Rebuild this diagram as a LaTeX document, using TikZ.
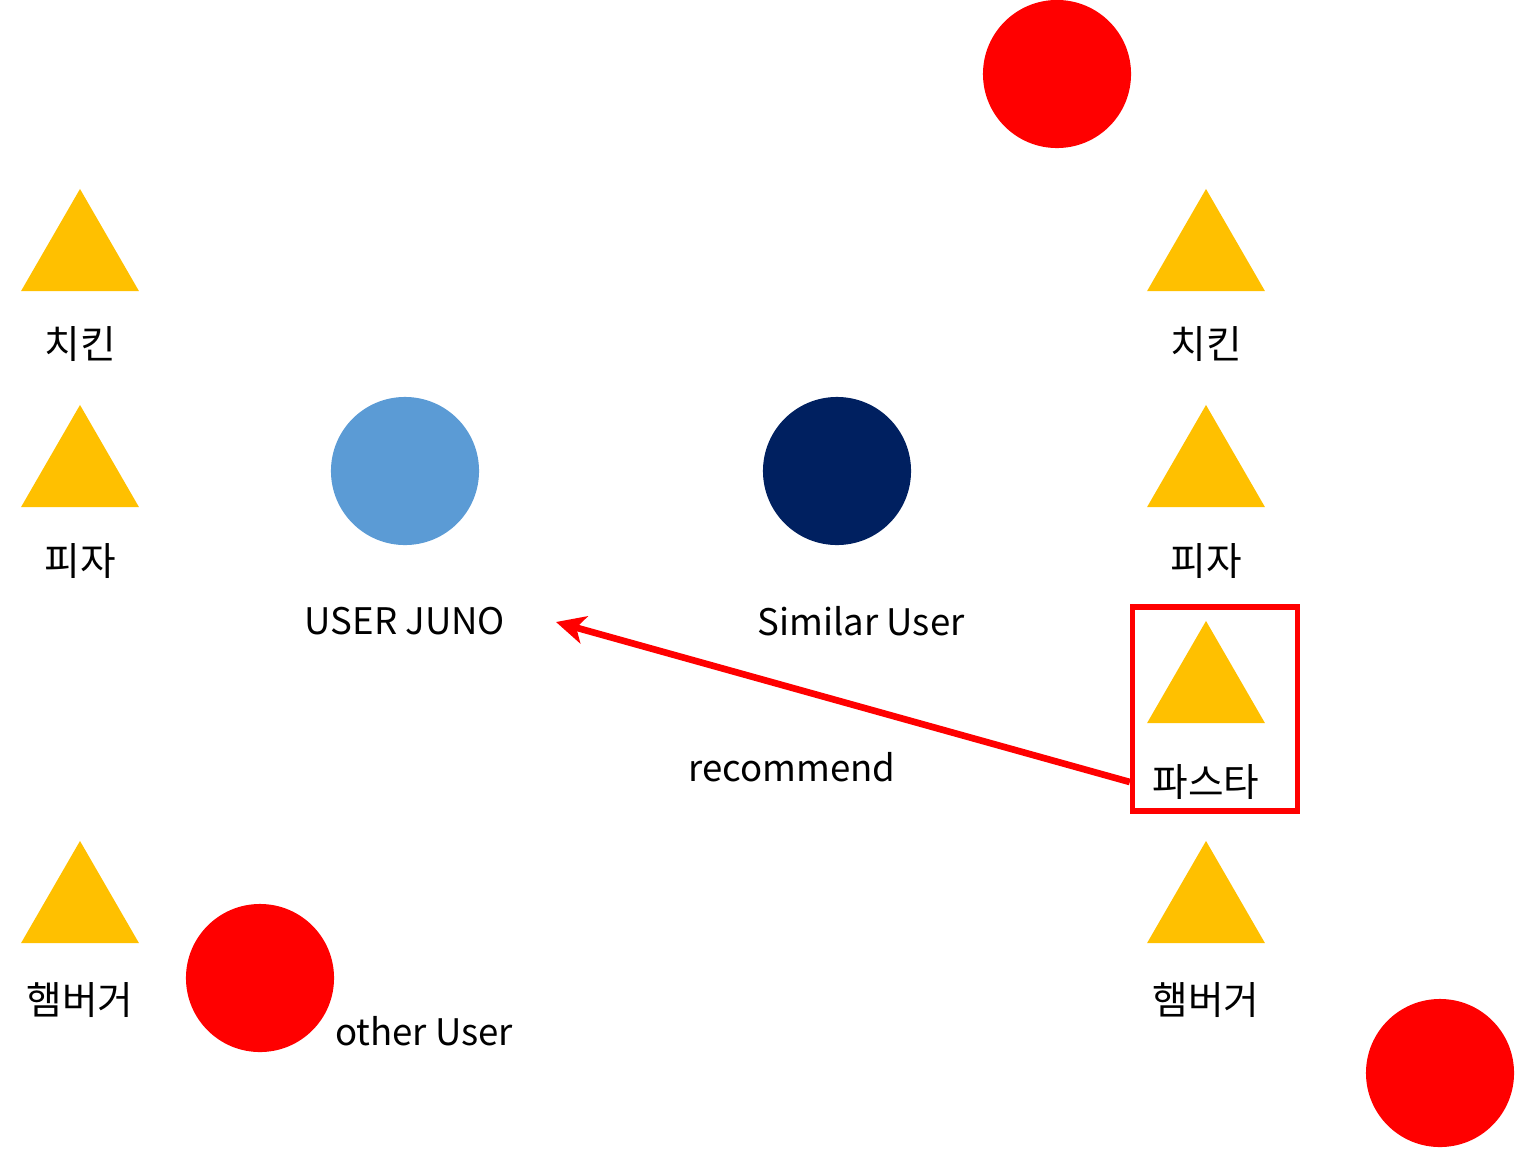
\documentclass[tikz,border=0pt]{standalone}
\usepackage{fontspec}
\setmainfont{Noto Sans CJK KR}
\usepackage{tikz}
\usetikzlibrary{shapes.geometric,arrows.meta,positioning,calc}

\begin{document}
\begin{tikzpicture}[
    x=0.01cm, y=-0.01cm,
    food/.style={regular polygon, regular polygon sides=3, fill=foodyellow, draw=none, inner sep=0pt, minimum size=1.36cm},
    user/.style={circle, draw=none, inner sep=0pt, minimum size=1.48cm},
    lbl/.style={inner sep=0pt, font=\fontsize{11}{13}\selectfont},
    ulbl/.style={inner sep=0pt, font=\fontsize{10.4}{12.5}\selectfont},
    pick/.style={rectangle, draw=red, line width=1.5pt, inner sep=0pt, minimum width=1.65cm, minimum height=2.04cm},
    arr/.style={-{Stealth[length=0.29cm, width=0.28cm, inset=0.08cm]}, line width=1.9pt, draw=red}
]
    \definecolor{foodyellow}{HTML}{FFC000}
    \definecolor{junoblue}{HTML}{5B9BD5}
    \definecolor{simnavy}{HTML}{002060}
    \useasboundingbox (0,0) rectangle (1515,1148);

    % users
    \node [user, fill=red] (o1) at (1057,74) {};
    \node [user, fill=junoblue] (juno) at (405,471) {};
    \node [user, fill=simnavy] (sim) at (837,471) {};
    \node [user, fill=red] (o2) at (260,978) {};
    \node [user, fill=red] (o3) at (1440,1073) {};

    \node [ulbl] (junol) at (405,621) {USER JUNO};
    \node [ulbl] (siml) at (861,621) {Similar User};
    \node [ulbl] (o2l) at (424,1031) {other User};

    % foods of USER JUNO
    \node [food] (lt1) at (80,257) {};
    \node [lbl] (lt1l) at (80,344) {치킨};
    \node [food] (lt2) at (80,473) {};
    \node [lbl] (lt2l) at (80,561) {피자};
    \node [food] (lt3) at (80,909) {};
    \node [lbl] (lt3l) at (80,1000) {햄버거};

    % foods of similar user
    \node [food] (rt1) at (1206,257) {};
    \node [lbl] (rt1l) at (1206,344) {치킨};
    \node [food] (rt2) at (1206,473) {};
    \node [lbl] (rt2l) at (1206,561) {피자};
    \node [food] (rt3) at (1206,689) {};
    \node [lbl] (rt3l) at (1206,782) {파스타};
    \node [food] (rt4) at (1206,909) {};
    \node [lbl] (rt4l) at (1206,1000) {햄버거};

    \node [pick] (box) at (1215,709) {};

    \coordinate (rectip) at (556,622);
    \draw [arr] (box.west |- rt3l) -- (rectip);
    \node [ulbl] (recl) at (792,767) {recommend};
\end{tikzpicture}
\end{document}
